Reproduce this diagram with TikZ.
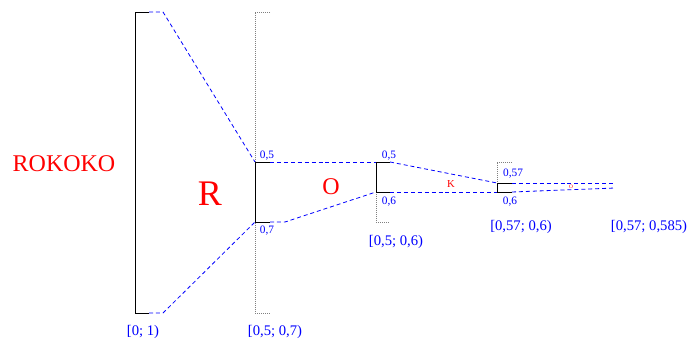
\documentclass[tikz,border=0pt]{standalone}
\usepackage{fontspec}
\setmainfont{Liberation Serif}
\usetikzlibrary{positioning}

\begin{document}
\begin{tikzpicture}[x=0.75pt, y=-0.75pt]
    \tikzset{
        interval/.style={draw=black, line width=0.65pt},
        fullscale/.style={draw=gray, densely dotted, line width=0.5pt},
        zoomline/.style={draw=blue, dash pattern=on 3pt off 2.2pt, line width=0.6pt},
        boundlabel/.style={text=blue, font=\fontsize{8.5}{9}\selectfont, inner sep=0pt},
        rangelabel/.style={text=blue, font=\fontsize{11}{13}\selectfont, inner sep=0pt},
        letter/.style={text=red, inner sep=0pt}
    }
    \path[use as bounding box] (0,0) rectangle (688,341);
    % interval [0; 1)
    \coordinate (aT) at (135,12);
    \coordinate (aB) at (135,313);
    \coordinate (aTe) at (149,12);
    \coordinate (aBe) at (149,313);
    \draw[interval] (aTe) -- (aT) -- (aB) -- (aBe);
    % interval [0,5; 0,7)
    \coordinate (bT) at (255,12);
    \coordinate (bB) at (255,313);
    \coordinate (bTe) at (270,12);
    \coordinate (bBe) at (270,313);
    \coordinate (b5) at (255,162);
    \coordinate (b7) at (255,222);
    \coordinate (b5e) at (270,162);
    \coordinate (b7e) at (270,222);
    \draw[fullscale] (bTe) -- (bT) -- (bB) -- (bBe);
    \draw[interval] (b5e) -- (b5) -- (b7) -- (b7e);
    % interval [0,5; 0,6)
    \coordinate (c5) at (376,162);
    \coordinate (c7) at (376,222);
    \coordinate (c6) at (376,192);
    \coordinate (c5e) at (390,162);
    \coordinate (c6e) at (390,192);
    \coordinate (c7e) at (390,222);
    \draw[fullscale] (c5) -- (c7) -- (c7e);
    \draw[interval] (c5e) -- (c5) -- (c6) -- (c6e);
    % interval [0,57; 0,6)
    \coordinate (dT) at (497,162);
    \coordinate (dTe) at (512,162);
    \coordinate (d57) at (497,183);
    \coordinate (d6) at (497,192);
    \coordinate (d57e) at (512,183);
    \coordinate (d6e) at (512,192);
    \draw[fullscale] (dTe) -- (dT) -- (d57);
    \draw[interval] (d57e) -- (d57) -- (d6) -- (d6e);
    % interval [0,57; 0,585)
    \coordinate (eT) at (615,183);
    \coordinate (eB) at (615,188);
    % zoom lines
    \draw[zoomline] (aTe) -- ++(14,0) -- (b5);
    \draw[zoomline] (aBe) -- ++(14,0) -- (b7);
    \draw[zoomline] (b5e) -- (c5);
    \draw[zoomline] (b7e) -- ++(15,0) -- (c6);
    \draw[zoomline] (c5e) -- (d57);
    \draw[zoomline] (c6e) -- (d6);
    \draw[zoomline] (d57e) -- (eT);
    \draw[zoomline] (d6e) -- (eB);
    % bounds
    \node[boundlabel] (b5lbl) at (267,156) {0,5};
    \node[boundlabel] (b7lbl) at (267,231) {0,7};
    \node[boundlabel] (c5lbl) at (389,156) {0,5};
    \node[boundlabel] (c6lbl) at (389,202) {0,6};
    \node[boundlabel] (d57lbl) at (513,174) {0,57};
    \node[boundlabel] (d6lbl) at (510,202) {0,6};
    \node[rangelabel] (arange) at (143,332) {[0; 1)};
    \node[rangelabel] (brange) at (275,332) {[0,5; 0,7)};
    \node[rangelabel] (crange) at (396,242) {[0,5; 0,6)};
    \node[rangelabel] (drange) at (521,227) {[0,57; 0,6)};
    \node[rangelabel] (erange) at (649,227) {[0,57; 0,585)};
    % symbols
    \node[letter, font=\fontsize{18}{20}\selectfont] (word) at (64,164) {ROKOKO};
    \node[letter, font=\fontsize{27}{30}\selectfont] (symR) at (210,194) {R};
    \node[letter, font=\fontsize{18}{20}\selectfont] (symO) at (331,187) {O};
    \node[letter, font=\fontsize{8}{9}\selectfont] (symK) at (451,184) {K};
    \node[letter, font=\fontsize{4}{5}\selectfont] (symO2) at (571,187) {O};
\end{tikzpicture}
\end{document}
